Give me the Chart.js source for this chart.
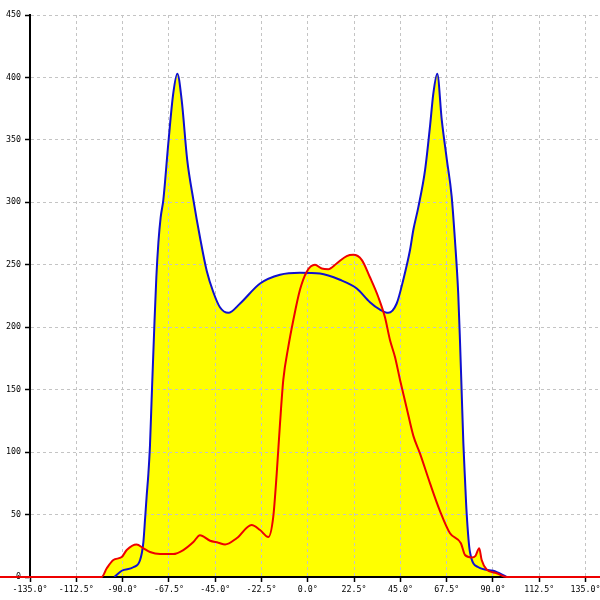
<!DOCTYPE html>
<html><head><meta charset="utf-8">
<script src="https://cdn.jsdelivr.net/npm/chart.js@4"></script>
<style>html,body{margin:0;padding:0;background:#fff}</style>
</head><body>
<canvas id="c" width="600" height="600"></canvas>
<script>
const X_TICKS = [-135, -112.5, -90, -67.5, -45, -22.5, 0, 22.5, 45, 67.5, 90, 112.5, 135];
const Y_TICKS_STEP = 50;

const BLUE_X = [-94, -90.4, -84.8, -81.5, -79.9, -79.1, -78.3, -77.5, -76.7, -75.9, -74.6, -73.6, -72.6, -71.5, -70.2, -67.8, -65.4, -63.4, -61.3, -58.6, -55.6, -52.4, -49.1, -45.9, -42.7, -38.6, -32.9, -23.2, -13.5, -3.8, 5.9, 15.6, 23.8, 30.2, 35.1, 39.1, 43.2, 46.4, 49.7, 51.3, 53.7, 57.0, 59.4, 61.0, 62.9, 65.1, 67.5, 69.9, 71.5, 73.1, 74.0, 74.8, 75.6, 76.4, 77.2, 78.8, 82.9, 90.1, 96.6];
const BLUE_Y = [0, 5, 7.8, 13.6, 28, 46, 65, 82, 105, 142, 200, 240, 268, 288, 302, 347, 387, 403, 382, 334, 302, 272, 245, 228, 216, 211.5, 219, 235, 242, 243.6, 243, 238, 231, 220, 214, 211.5, 219, 238, 262, 278, 296, 326, 361, 387, 403, 366, 335, 305, 270, 227, 187, 147, 107, 78, 51, 20, 7.8, 5, 0];

const RED_X = [-150, -100.2, -97.7, -94.5, -90.4, -88, -83.2, -79.9, -76.7, -71.8, -65.4, -60.5, -55.6, -52.4, -47.5, -43.5, -40.2, -34.6, -27.3, -23.2, -19.2, -16.8, -15.1, -13.5, -11.9, -9.5, -7.0, -3.8, -0.5, 3.5, 6.8, 10, 14, 18.9, 22.1, 26.2, 30.2, 34.3, 37.5, 39.9, 42.4, 44.8, 48.1, 51.3, 54.5, 59.4, 64.2, 69.1, 74.4, 76.4, 79.6, 81.5, 83.3, 84.5, 86.9, 91.8, 96.6, 142];
const RED_Y = [0, 0, 7, 13.6, 16, 21.6, 26, 23, 20, 18.4, 18.4, 21.6, 28, 33.5, 29, 27.5, 26, 31, 41.6, 37.6, 32, 48, 83, 123, 158, 184, 206, 230, 244.5, 250, 247, 246.5, 251, 257, 258, 254, 240, 224, 208, 190, 176, 158, 135, 113, 99, 75, 53, 35, 27, 17.6, 15.7, 17, 23, 13.6, 6, 3, 0, 0];

const FONT = {family: 'DejaVu Sans Mono', size: 8.3};
const pts = (xs, ys) => xs.map((x, i) => ({x: x, y: ys[i]}));

new Chart(document.getElementById('c'), {
  type: 'line',
  data: {
    datasets: [
      {data: pts(RED_X, RED_Y), borderColor: '#ee0000', borderWidth: 2, pointRadius: 0,
       fill: 'origin', backgroundColor: '#ffff00', cubicInterpolationMode: 'monotone', clip: false, order: 0},
      {data: pts(BLUE_X, BLUE_Y), borderColor: '#1010d0', borderWidth: 2, pointRadius: 0,
       fill: 'origin', backgroundColor: '#ffff00', cubicInterpolationMode: 'monotone', order: 1}
    ]
  },
  options: {
    responsive: false,
    animation: false,
    layout: {padding: {top: 15, left: 0, right: 0, bottom: 0}, autoPadding: false},
    plugins: {legend: {display: false}, tooltip: {enabled: false}, filler: {drawTime: 'beforeDraw'}},
    scales: {
      x: {
        type: 'linear', min: -135, max: 142,
        afterBuildTicks: s => { s.ticks = X_TICKS.map(v => ({value: v})); },
        afterFit: s => { s.height = 23; s.paddingLeft = 0; s.paddingRight = 0; },
        grid: {color: '#c4c4c4', lineWidth: 1, tickLength: 5, tickColor: '#000', tickWidth: 1.5, tickBorderDash: []},
        border: {display: true, color: '#000', width: 2, dash: [3, 3]},
        ticks: {color: '#000', font: FONT, padding: 3, maxRotation: 0, autoSkip: false,
                callback: v => Number(v).toFixed(1) + '°'}
      },
      y: {
        type: 'linear', min: 0, max: 450,
        afterFit: s => { s.width = 30; s.paddingTop = 0; s.paddingBottom = 0; },
        grid: {color: '#c4c4c4', lineWidth: 1, tickLength: 5, tickColor: '#000', tickWidth: 1.5, tickBorderDash: []},
        border: {display: true, color: '#000', width: 2, dash: [3, 3]},
        ticks: {color: '#000', font: FONT, padding: 4, stepSize: Y_TICKS_STEP}
      }
    }
  }
});
</script>
</body></html>
